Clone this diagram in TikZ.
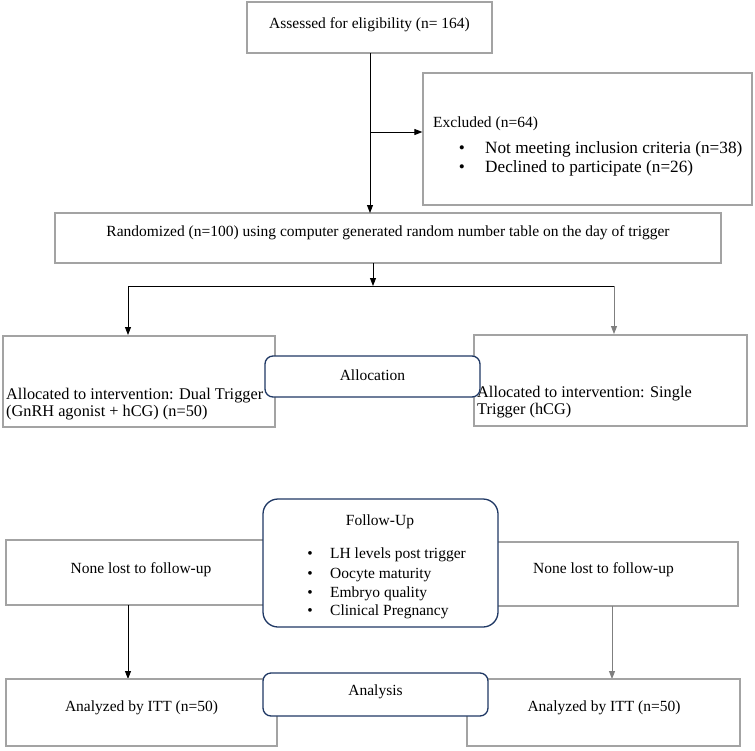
\documentclass[tikz,border=0pt]{standalone}
\usepackage{fontspec}
\setmainfont{Liberation Serif}
\usetikzlibrary{arrows.meta}
\definecolor{boxgray}{HTML}{A3A3A3}
\definecolor{navy}{HTML}{1F3864}
\definecolor{linegray}{HTML}{7F7F7F}
\begin{document}
\begin{tikzpicture}[x=1pt,y=-1pt,
  font=\fontsize{15.5}{17}\selectfont,
  sqbox/.style={draw=boxgray, line width=1.2pt, fill=white, inner sep=0pt},
  rbox/.style={draw=navy, line width=1.3pt, fill=white, inner sep=0pt, rounded corners=8pt},
  txt/.style={inner sep=0pt, align=left},
  bigtxt/.style={txt, font=\fontsize{17.2}{19}\selectfont},
  alloctxt/.style={txt, font=\fontsize{16.3}{16.5}\selectfont},
  arr/.style={-{Triangle[length=8pt,width=6pt]}, line width=0.9pt},
  conn/.style={line width=0.9pt}]
\useasboundingbox (0,0) rectangle (755,750);
\fill[white] (0,0) rectangle (755,750);

% top
\node[sqbox, minimum width=245pt, minimum height=51pt] (assess) at (369.5,27.5) {};
\node[txt] (assesst) at (369.5,25) {Assessed for eligibility (n= 164)};

% excluded
\node[sqbox, minimum width=329pt, minimum height=132pt] (excl) at (587.5,139) {};
\node[txt, anchor=base west] (exh) at (433,127) {Excluded (n=64)};
\node[bigtxt, anchor=base] (exb1) at (462,153) {\textbullet};
\node[bigtxt, anchor=base west] (ext1) at (485,153) {Not meeting inclusion criteria (n=38)};
\node[bigtxt, anchor=base] (exb2) at (462,172) {\textbullet};
\node[bigtxt, anchor=base west] (ext2) at (485,172) {Declined to participate (n=26)};

% randomized
\node[sqbox, minimum width=666pt, minimum height=50pt] (rand) at (388,238) {};
\node[txt] (randt) at (388,233) {Randomized (n=100) using computer generated random number table on the day of trigger};

% arrows from top
\coordinate (vsplit) at (370,132);
\draw[conn] (370,53) -- (vsplit);
\draw[arr] (vsplit) -- (370,213);
\draw[arr] (vsplit) -- (excl.west |- vsplit);

% allocation boxes
\node[sqbox, minimum width=272pt, minimum height=91pt] (allocL) at (139,381.5) {};
\node[alloctxt, anchor=west] (allocLt) at (6,404) {Allocated to intervention: Dual Trigger\\(GnRH agonist + hCG) (n=50)};
\node[sqbox, minimum width=273pt, minimum height=91pt] (allocR) at (610.5,380.5) {};
\node[alloctxt, anchor=west] (allocRt) at (477,402) {Allocated to intervention: Single\\Trigger (hCG)};
\node[rbox, minimum width=215pt, minimum height=41pt] (allocation) at (372.5,376.5) {};
\node[txt] (allocationt) at (372.5,375) {Allocation};

% split arrows
\coordinate (rsplit) at (373,286);
\coordinate (lcorner) at (128,286);
\coordinate (rcorner) at (614,286);
\draw[arr] (373,263) -- (rsplit);
\draw[conn] (lcorner) -- (rcorner);
\draw[arr] (lcorner) -- (128,335);
\draw[arr, draw=linegray] (rcorner) -- (614,334);

% follow-up row
\node[sqbox, minimum width=270pt, minimum height=65pt] (noneL) at (141,572.5) {};
\node[txt] (noneLt) at (141,570) {None lost to follow-up};
\node[sqbox, minimum width=269pt, minimum height=64pt] (noneR) at (603.5,574) {};
\node[txt] (noneRt) at (603.5,570) {None lost to follow-up};
\node[rbox, rounded corners=15pt, minimum width=235pt, minimum height=128pt] (follow) at (380.5,563) {};
\node[txt] (followt) at (380,522) {Follow-Up};
\node[txt, anchor=base] (fb1) at (310,558) {\textbullet};
\node[txt, anchor=base west] (ft1) at (330,558) {LH levels post trigger};
\node[txt, anchor=base] (fb2) at (310,578) {\textbullet};
\node[txt, anchor=base west] (ft2) at (330,578) {Oocyte maturity};
\node[txt, anchor=base] (fb3) at (310,597) {\textbullet};
\node[txt, anchor=base west] (ft3) at (330,597) {Embryo quality};
\node[txt, anchor=base] (fb4) at (310,615) {\textbullet};
\node[txt, anchor=base west] (ft4) at (330,615) {Clinical Pregnancy};

% analysis row
\draw[arr] (128,605) -- (128,679);
\draw[arr, draw=linegray] (612,606) -- (612,679);
\node[sqbox, minimum width=271pt, minimum height=67pt] (anL) at (141.5,712.5) {};
\node[txt] (anLt) at (141.5,708) {Analyzed by ITT (n=50)};
\node[sqbox, minimum width=273pt, minimum height=67pt] (anR) at (603.5,712.5) {};
\node[txt] (anRt) at (604,708) {Analyzed by ITT (n=50)};
\node[rbox, minimum width=225pt, minimum height=43pt] (analysis) at (375.5,694.5) {};
\node[txt] (analysist) at (375.5,692) {Analysis};
\end{tikzpicture}
\end{document}
